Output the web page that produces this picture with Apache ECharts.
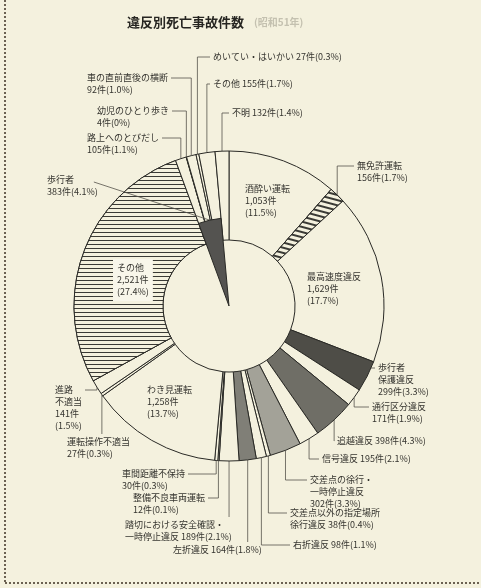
<!DOCTYPE html>
<html>
<head>
<meta charset="utf-8">
<script src="https://cdn.jsdelivr.net/npm/echarts@6/dist/echarts.min.js"></script>
<style>
  html, body { margin: 0; padding: 0; background: #f4f1de; }
  #chart { width: 481px; height: 588px; }
</style>
</head>
<body>
<div id="chart"></div>
<script>
// 違反別死亡事故件数 (昭和51年) — 外側リング、時計回りに12時から
var sliceNames = ['酒酔い運転', '無免許運転', '最高速度違反', '歩行者\n保護違反', '通行区分違反', '追越違反',
    '信号違反', '交差点の徐行・\n一時停止違反', '交差点以外の指定場所\n徐行違反', '右折違反', '左折違反',
    '踏切における安全確認・\n一時停止違反', '整備不良車両運転', '車間距離不保持', 'わき見運転', '運転操作不適当',
    '進路\n不適当', 'その他', '路上へのとびだし', '幼児のひとり歩き', '車の直前直後の横断', 'めいてい・はいかい',
    'その他', '不明'];
var sliceCounts = [1053, 156, 1629, 299, 171, 398, 195, 302, 38, 98, 164, 189, 12, 30, 1258, 27, 141, 2521,
    105, 4, 92, 27, 155, 132];
var slicePercents = ['11.5', '1.7', '17.7', '3.3', '1.9', '4.3', '2.1', '3.3', '0.4', '1.1', '1.8', '2.1', '0.1',
    '0.3', '13.7', '0.3', '1.5', '27.4', '1.1', '0', '1.0', '0.3', '1.7', '1.4'];
// 表示形式 {n}=名前 {c}=件数 {p}=%
var labelForms = ['{n}\n{c}件\n({p}%)', '{n}\n{c}件({p}%)', '{n}\n{c}件\n({p}%)', '{n}\n{c}件({p}%)',
    '{n}\n{c}件({p}%)', '{n} {c}件({p}%)', '{n} {c}件({p}%)', '{n}\n{c}件({p}%)', '{n} {c}件({p}%)',
    '{n} {c}件({p}%)', '{n} {c}件({p}%)', '{n} {c}件({p}%)', '{n}\n{c}件({p}%)', '{n}\n{c}件({p}%)',
    '{n}\n{c}件\n({p}%)', '{n}\n{c}件({p}%)', '{n}\n{c}件\n({p}%)', '{n}\n{c}件\n({p}%)', '{n}\n{c}件({p}%)',
    '{n}\n{c}件({p}%)', '{n}\n{c}件({p}%)', '{n} {c}件({p}%)', '{n} {c}件({p}%)', '{n} {c}件({p}%)'];
// w=白 h=横線 d=斜線 k=濃 g=中 l=淡 m=中淡
var sliceFills = ['w', 'd', 'w', 'k', 'w', 'g', 'w', 'l', 'w', 'w', 'm', 'w', 'w', 'w', 'w', 'w', 'w', 'h',
    'w', 'w', 'w', 'w', 'w', 'w'];
var insideLabels = [0, 2, 14, 17];

// 中心の扇形 (歩行者 383件 = 路上へのとびだし〜その他の合計)
var pedName = '歩行者';
var pedCount = 383;
var pedPercent = '4.1';
var pedBefore = 8681;   // 12時から歩行者までの件数
var pedAfter = 132;     // 不明

// ラベル位置 (左上)
var labelPos = [[245, 183], [357, 160], [307, 271], [378, 362], [372, 401], [337, 435], [322, 453],
    [310, 474], [290, 507], [293, 539], [173, 544], [125, 519], [133, 492], [122, 468], [147, 384],
    [67, 436], [55, 384], [113, 259], [87, 132], [97, 105], [87, 72], [213, 51], [213, 78], [232, 107]];
var pedLabelPos = [47, 174];

var paper = '#f4f1de';
var ink = '#2a2a26';

function fillStyle(k) {
    var s = { color: paper, borderColor: ink, borderWidth: 1 };
    if (k == 'k') s.color = '#4e4d47';
    if (k == 'g') s.color = '#6f6e66';
    if (k == 'l') s.color = '#a3a298';
    if (k == 'm') s.color = '#807f77';
    if (k == 'h') {
        s.decal = { symbol: 'rect', symbolSize: 1, dashArrayX: [1, 0], dashArrayY: [1, 3],
            rotation: 0, color: '#3a3a35', backgroundColor: paper };
    }
    if (k == 'd') {
        s.decal = { symbol: 'rect', symbolSize: 1, dashArrayX: [1, 0], dashArrayY: [1.5, 2.5],
            rotation: Math.PI / 12, color: '#3a3a35', backgroundColor: paper };
    }
    return s;
}

function fmt(form, n, c, p) {
    return form.replace('{n}', n).replace('{c}', c.toLocaleString('en-US')).replace('{p}', p);
}

var ringData = [];
for (var i = 0; i < sliceNames.length; i++) {
    var inside = insideLabels.indexOf(i) >= 0;
    var item = {
        name: sliceNames[i],
        value: sliceCounts[i],
        itemStyle: fillStyle(sliceFills[i]),
        label: { formatter: fmt(labelForms[i], sliceNames[i], sliceCounts[i], slicePercents[i]) },
        labelLine: { show: !inside }
    };
    if (i == 17) {
        item.label.backgroundColor = '#f8f6ea';
        item.label.padding = [3, 4];
    }
    ringData.push(item);
}

function elbow(a, x, y, w, h) {
    var ty = y + 6;
    if (a[0] < x - 2) return [a, [a[0], ty], [x - 3, ty]];
    if (a[0] > x + w + 2) return [a, [a[0], ty], [x + w + 3, ty]];
    var ey = a[1] < y ? y - 2 : y + h + 2;
    return [a, [a[0], ey]];
}

var labelText = { fontSize: 9, lineHeight: 12, color: '#35342f', fontFamily: 'Noto Sans CJK JP' };

var myChart = echarts.init(document.getElementById('chart'));
var option = {
    backgroundColor: paper,
    animation: false,
    title: {
        text: '{a|違反別死亡事故件数}  {b|(昭和51年)}',
        left: 122,
        top: 8,
        textStyle: {
            rich: {
                a: { fontSize: 13, fontWeight: 'bold', color: '#262521', fontFamily: 'Noto Sans CJK JP' },
                b: { fontSize: 10, color: '#c4c1b0', fontFamily: 'Noto Sans CJK JP' }
            }
        }
    },
    graphic: [
        { type: 'line', silent: true, shape: { x1: 5, y1: 0, x2: 5, y2: 583 },
          style: { stroke: '#6b6152', lineWidth: 2, lineDash: [2, 2] } },
        { type: 'line', silent: true, shape: { x1: 5, y1: 583, x2: 481, y2: 583 },
          style: { stroke: '#6b6152', lineWidth: 2, lineDash: [2, 2] } }
    ],
    series: [
        {
            type: 'pie',
            silent: true,
            center: [229, 306],
            radius: [66, 155],
            startAngle: 90,
            clockwise: true,
            avoidLabelOverlap: false,
            label: Object.assign({ show: true, position: 'outside' }, labelText),
            labelLine: { show: true, length: 10, length2: 10, lineStyle: { color: '#55534b', width: 0.8 } },
            labelLayout: function (params) {
                var p = labelPos[params.dataIndex];
                var r = params.labelRect;
                var out = { x: p[0], y: p[1], align: 'left', verticalAlign: 'top' };
                if (params.labelLinePoints) {
                    out.labelLinePoints = elbow(params.labelLinePoints[0], p[0], p[1], r.width, r.height);
                }
                return out;
            },
            data: ringData
        },
        {
            type: 'pie',
            silent: true,
            z: 3,
            center: [229, 306],
            radius: [0, 88],
            startAngle: 90,
            clockwise: true,
            avoidLabelOverlap: false,
            label: Object.assign({ show: false, position: 'outside' }, labelText),
            labelLine: { show: false, lineStyle: { color: '#55534b', width: 0.8 } },
            labelLayout: function (params) {
                if (params.dataIndex != 1) return {};
                var r = params.labelRect;
                var out = { x: pedLabelPos[0], y: pedLabelPos[1], align: 'left', verticalAlign: 'top' };
                if (params.labelLinePoints) {
                    out.labelLinePoints = [params.labelLinePoints[0],
                        [pedLabelPos[0] + r.width - 4, pedLabelPos[1] + 8]];
                }
                return out;
            },
            data: [
                { value: pedBefore, name: '', itemStyle: { color: 'rgba(0,0,0,0)', borderWidth: 0 } },
                { value: pedCount, name: pedName,
                  itemStyle: { color: '#545350', borderColor: ink, borderWidth: 1 },
                  label: { show: true, formatter: fmt('{n}\n{c}件({p}%)', pedName, pedCount, pedPercent) },
                  labelLine: { show: true, length: 10, length2: 10 } },
                { value: pedAfter, name: '', itemStyle: { color: 'rgba(0,0,0,0)', borderWidth: 0 } }
            ]
        }
    ]
};
myChart.setOption(option);
</script>
</body>
</html>
